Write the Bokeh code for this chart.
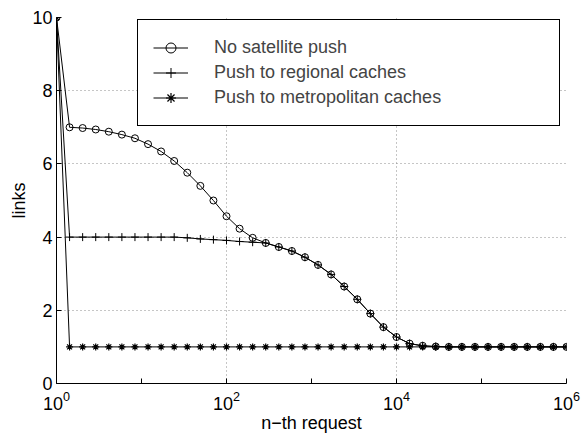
from bokeh.plotting import figure
from bokeh.models import FixedTicker, Legend, LegendItem, Range1d
from bokeh.embed import file_html
from bokeh.resources import INLINE

# n-th request (sample positions, 40 log-spaced points from 1 to 1e6)
requests = [1, 1.425, 2.031, 2.894, 4.125, 5.878, 8.377, 11.94, 17.01, 24.24,
            34.55, 49.24, 70.17, 100, 142.5, 203.1, 289.4, 412.5, 587.8, 837.7,
            1194, 1701, 2424, 3455, 4924, 7017, 10000, 14250, 20310, 28940,
            41250, 58780, 83770, 119400, 170100, 242400, 345500, 492400, 701700, 1000000]

no_push = [10, 7.00, 6.98, 6.94, 6.88, 6.80, 6.70, 6.54, 6.34, 6.08,
           5.76, 5.40, 5.00, 4.57, 4.23, 3.98, 3.84, 3.73, 3.62, 3.45,
           3.24, 2.98, 2.65, 2.30, 1.91, 1.54, 1.27, 1.09, 1.03, 1.01,
           1.0, 1.0, 1.0, 1.0, 1.0, 1.0, 1.0, 1.0, 1.0, 1.0]

regional = [10, 4.0, 4.0, 4.0, 4.0, 4.0, 4.0, 4.0, 4.0, 4.0,
            3.98, 3.95, 3.93, 3.91, 3.88, 3.86, 3.84, 3.73, 3.62, 3.45,
            3.24, 2.98, 2.65, 2.30, 1.91, 1.54, 1.27, 1.09, 1.03, 1.01,
            1.0, 1.0, 1.0, 1.0, 1.0, 1.0, 1.0, 1.0, 1.0, 1.0]

metro = [10, 1.0, 1.0, 1.0, 1.0, 1.0, 1.0, 1.0, 1.0, 1.0,
         1.0, 1.0, 1.0, 1.0, 1.0, 1.0, 1.0, 1.0, 1.0, 1.0,
         1.0, 1.0, 1.0, 1.0, 1.0, 1.0, 1.0, 1.0, 1.0, 1.0,
         1.0, 1.0, 1.0, 1.0, 1.0, 1.0, 1.0, 1.0, 1.0, 1.0]

labels = ["No satellite push", "Push to regional caches", "Push to metropolitan caches"]
x_major = [1, 1e2, 1e4, 1e6]
x_minor = [10, 1e3, 1e5]
y_ticks = [0, 2, 4, 6, 8, 10]

FONT = "Liberation Sans"

p = figure(width=587, height=435, x_axis_type="log",
           x_range=Range1d(1, 1e6), y_range=Range1d(0, 10),
           output_backend="svg", toolbar_location=None,
           min_border_left=56, min_border_right=21,
           min_border_top=17, min_border_bottom=52)

p.outline_line_color = None
p.background_fill_color = "white"
p.border_fill_color = "white"

# axes
p.xaxis.ticker = FixedTicker(ticks=x_major, minor_ticks=x_minor)
p.yaxis.ticker = FixedTicker(ticks=y_ticks)
for ax in (p.xaxis, p.yaxis):
    ax.major_tick_in = 5
    ax.major_tick_out = 0
    ax.minor_tick_in = 5
    ax.minor_tick_out = 0
    ax.axis_line_color = "black"
    ax.major_tick_line_color = "black"
    ax.minor_tick_line_color = "black"
    ax.major_label_text_font = FONT
    ax.major_label_text_font_size = "18px"
    ax.major_label_text_color = "black"
    ax.axis_label_text_font = FONT
    ax.axis_label_text_font_size = "18px"
    ax.axis_label_text_font_style = "normal"
    ax.axis_label_text_color = "black"
p.yaxis.minor_tick_line_color = None
p.yaxis.major_label_standoff = 4
p.xaxis.major_label_standoff = 7
p.yaxis.axis_label_standoff = 0
p.xaxis.axis_label_standoff = 0
p.xaxis.axis_label = "n\u2212th request"
p.yaxis.axis_label = "links"

for g in (p.xgrid, p.ygrid):
    g.grid_line_color = "#8c8c8c"
    g.grid_line_dash = "1 3"
    g.grid_line_width = 1

# series
l1 = p.line(requests, no_push, line_color="black", line_width=1)
s1 = p.scatter(requests, no_push, marker="circle", size=7, fill_color=None,
               line_color="black", line_width=1)
l2 = p.line(requests, regional, line_color="black", line_width=1)
s2 = p.scatter(requests, regional, marker="cross", size=8,
               line_color="black", line_width=1)
l3 = p.line(requests, metro, line_color="black", line_width=1)
s3 = p.scatter(requests, metro, marker="asterisk", size=7,
               line_color="black", line_width=1.2)

legend = Legend(items=[LegendItem(label=labels[0], renderers=[l1, s1]),
                       LegendItem(label=labels[1], renderers=[l2, s2]),
                       LegendItem(label=labels[2], renderers=[l3, s3])],
                location=(81, 257))
legend.border_line_color = "black"
legend.border_line_alpha = 1
legend.border_line_width = 1.5
legend.background_fill_color = "white"
legend.background_fill_alpha = 1
legend.label_text_font = FONT
legend.label_text_font_size = "18px"
legend.glyph_width = 35
legend.glyph_height = 25
legend.label_height = 25
legend.spacing = 0
legend.padding = 15
legend.margin = 0
legend.label_standoff = 26
legend.label_width = 330
p.add_layout(legend)

open("out.html", "w").write(file_html(p, INLINE))
